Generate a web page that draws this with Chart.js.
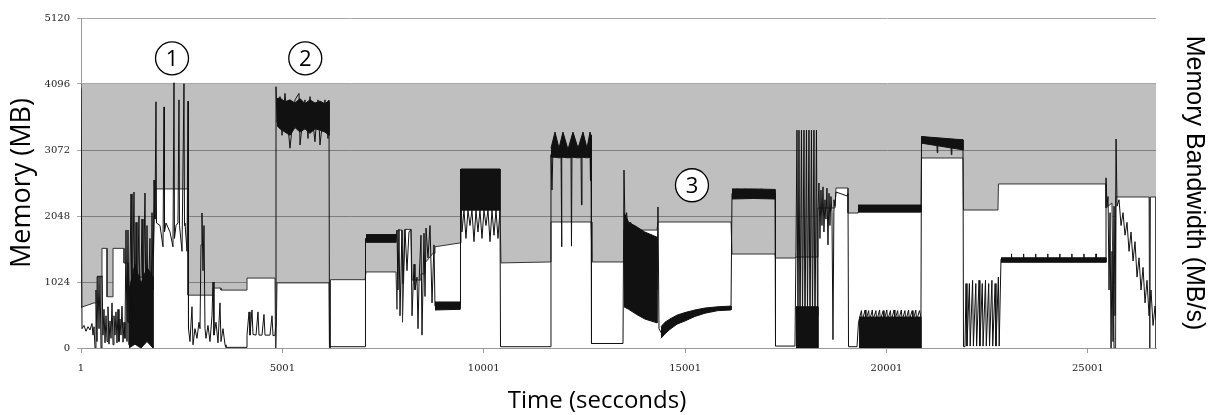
<!DOCTYPE html>
<html>
<head>
<meta charset="utf-8">
<script src="https://cdn.jsdelivr.net/npm/chart.js@4.4.1/dist/chart.umd.min.js"></script>
<style>
  html, body { margin: 0; padding: 0; background: #fff; }
  #wrap { width: 1209px; height: 415px; }
</style>
</head>
<body>
<div id="wrap"><canvas id="myChart" width="1209" height="415"></canvas></div>
<script>
// x axis (seconds) and y axis (MB) ticks
var xTicks = [1, 5001, 10001, 15001, 20001, 25001];
var xMax = 26694;

// total memory (gray)
var capT = [1, 26694];
var capV = [4096, 4096];

// memory allocation (white area)
var memT = [1, 324, 398, 398, 522, 522, 647, 647, 796, 796, 1069, 1069, 1168, 1168, 1466, 1466,
  1789, 1838, 2658, 2658, 3279, 3279, 3477, 3477, 4123, 4123,
  4818, 4831, 4843, 4868, 6159, 6171, 6184, 6196, 7053, 7078,
  7822, 7847, 7872, 7971, 7984, 8046, 8195, 8220, 8443, 8443, 8543, 8543, 8741, 8791, 8791, 9412,
  9436, 10405, 10430, 11647, 11671, 12665, 12689, 13484, 13484, 14303, 14328, 16141,
  16166, 17234, 17246, 17729, 17754, 18300, 18300, 18723, 18748, 19046, 19046, 19295,
  19295, 20858, 20871, 21901, 21914, 22770, 22782, 25453, 25453, 25600, 25650, 25690, 25702,
  26522, 26530, 26545, 26555, 26694, 26694];
var memV = [630, 700, 700, 1105, 1105, 1546, 1546, 795, 795, 1546, 1546, 1318, 1318, 400, 400, 1100,
  1100, 2468, 2468, 820, 820, 930, 930, 898, 898, 1085,
  1085, 0, 0, 1010, 1010, 0, 0, 1060, 1060, 1180,
  1180, 600, 1830, 1830, 400, 1840, 1840, 1055, 1055, 1150, 1150, 1320, 1470, 1470, 1570, 1630,
  2141, 2141, 1320, 1335, 1955, 1955, 1335, 1335, 1830, 1830, 1955, 1955,
  1458, 1458, 1396, 1396, 1412, 1412, 2172, 2172, 2482, 2482, 2094, 2094,
  2110, 2110, 2948, 2948, 2141, 2141, 2545, 2545, 2172, 2250, 0, 0, 2343,
  2343, 0, 0, 2343, 2343, 0];

// dense black bands (upper / lower edge), segments split by null
var bandT = [1193, 1340, 1490, 1640, 1789, null,
  4868, 4942, 5066, 5190, 5315, 5439, 5563, 5687, 5811, 5935, 6059, 6159, null,
  7078, 7822, null,
  8791, 9412, null,
  9436, 10405, null,
  11671, 11771, 11870, 11969, 12093, 12217, 12342, 12466, 12565, 12640, 12665, null,
  13484, 13600, 13800, 14000, 14303, null,
  14403, 14502, 14626, 14800, 14999, 15247, 15495, 15818, 16141, null,
  16166, 16700, 17234, null,
  17754, 18300, null,
  19295, 20858, null,
  19320, 20858, null,
  20871, 21901, null,
  22845, 25453];
var bandHi = [900, 1300, 1000, 1250, 1100, null,
  3870, 3880, 3820, 3850, 3800, 3870, 3790, 3850, 3800, 3830, 3790, 3840, null,
  1760, 1760, null,
  714, 714, null,
  2777, 2777, null,
  3100, 3350, 3100, 3350, 3080, 3350, 3100, 3350, 3100, 3350, 3300, null,
  2100, 1950, 1880, 1800, 1720, null,
  330, 400, 450, 510, 550, 590, 620, 640, 650, null,
  2468, 2468, 2460, null,
  640, 640, null,
  2218, 2218, null,
  480, 480, null,
  3281, 3230, null,
  1400, 1400];
var bandLo = [0, 60, 0, 100, 0, null,
  3450, 3400, 3350, 3300, 3420, 3350, 3400, 3330, 3400, 3380, 3350, 3300, null,
  1640, 1640, null,
  590, 600, null,
  2141, 2141, null,
  2960, 2960, 2950, 2960, 2950, 2960, 2950, 2960, 2950, 2960, 2960, null,
  640, 600, 520, 450, 390, null,
  150, 220, 290, 370, 420, 490, 540, 580, 590, null,
  2312, 2320, 2312, null,
  0, 0, null,
  2110, 2110, null,
  0, 0, null,
  3178, 3074, null,
  1330, 1330];

// memory bandwidth trace (black line)
var lineT = [1, 26, 75, 125, 175, 224, 274, 299, 324,
  349, 373, 398, 423, 448, 473, 498, 522, 547,
  572, 597, 622, 647, 671, 696, 721, 746, 771, 796, 820, 845, 870, 895, 920, 944, 969, 994, 1019, 1044, 1069, 1093, 1118, 1143,
  1168, 1193, 1243, 1267, 1317, 1342, 1367, 1391, 1441, 1466, 1516, 1540, 1590, 1615, 1640, 1665, 1714, 1739, 1764, 1789, 1814, 1838,
  1863, 1876, 1963, 2037, 2062, 2074, 2112, 2211, 2285, 2310, 2322, 2360, 2409, 2434, 2447, 2509, 2558, 2571, 2583, 2633, 2658, 2670,
  2707, 2757, 2782, 2831, 2881, 2931, 2956, 2981, 3005, 3030, 3055, 3080, 3105, 3154, 3204, 3254, 3279, 3303, 3353, 3403, 3452, 3477, 3527, 3577, 3601,
  4123, 4123, 4173, 4197, 4247, 4272, 4347, 4396, 4421, 4495, 4545, 4570, 4694, 4744, 4769, 4818, 4843,
  4843, 4868, 4942, 4992, 5066, 5190, 5315, 5414, 5439, 5563, 5638, 5687, 5811, 5886, 5935, 6059, 6134, 6159, 6171,
  7053, 7065, 7822,
  7847, 7872, 7897, 7922, 7971, 7996, 8046, 8096, 8145, 8195, 8220, 8270, 8294, 8344, 8369, 8394, 8443, 8468, 8518, 8543, 8568, 8617, 8667, 8717, 8766, 8791,
  9412, 9424, 9461, 9511, 9560, 9610, 9660, 9709, 9759, 9809, 9858, 9908, 9958, 10007, 10057, 10107, 10157, 10206, 10256, 10306, 10355, 10405, 10418,
  11647, 11671, 11696, 11721, 11920, 11933, 11944, 12168, 12180, 12193, 12416, 12428, 12441, 12640, 12652, 12665, 12677,
  13459, 13484, 13509, 13550, 13600, 13650, 13700, 13750, 13800, 13850, 13900, 13950, 14000, 14050, 14100, 14150, 14200, 14250, 14303,
  14328, 14353, 14403, 14502, 14626, 14800, 14999, 15247, 15495, 15818, 16141,
  16166, 16300, 16400, 16500, 16700, 16900, 17100, 17234, 17246, 17729,
  17754, 17779, 17804, 17829, 17854, 17891, 17916, 17953, 17978, 18015, 18040, 18077, 18102, 18139, 18164, 18201, 18226, 18263, 18288,
  18300, 18325, 18350, 18375, 18400, 18425, 18449, 18474, 18499, 18524, 18549, 18574, 18598, 18623, 18648, 18673, 18698, 18723,
  18748, 19021, 19046, 19059, 19270,
  19307, 19380, 19400, 19470, 19490, 19560, 19580, 19650, 19670, 19740, 19760, 19830, 19850, 19920, 19940, 20010, 20030, 20100, 20120,
  20190, 20210, 20280, 20300, 20370, 20390, 20460, 20480, 20550, 20570, 20640, 20660, 20730, 20750, 20820, 20858,
  20871, 21250, 21262, 21275, 21600, 21612, 21625, 21901, 21914,
  21951, 21977, 22000, 22060, 22080, 22140, 22160, 22220, 22240, 22300, 22320, 22380, 22400, 22460, 22480, 22540, 22560, 22620, 22640, 22700, 22720, 22780, 22800, 22845,
  23100, 23105, 23110, 23400, 23405, 23410, 23700, 23705, 23710, 24000, 24005, 24010,
  24300, 24305, 24310, 24600, 24605, 24610, 24900, 24905, 24910, 25200, 25205, 25210, 25453,
  25453, 25478, 25503, 25528, 25553, 25578, 25602, 25627, 25652, 25677, 25702, 25727, 25776, 25826, 25875, 25925, 25975, 26024, 26074, 26124,
  26173, 26223, 26273, 26322, 26372, 26422, 26471, 26521, 26571, 26620, 26670, 26694];
var lineV = [4030, 300, 350, 260, 330, 280, 380, 200, 330,
  0, 900, 100, 1120, 300, 1120, 0, 1120, 200,
  600, 80, 500, 100, 640, 60, 420, 150, 700, 50, 500, 200, 560, 80, 600, 100, 450, 200, 650, 90, 400, 150, 1830, 100,
  1830, 50, 2390, 300, 2420, 100, 1950, 400, 2050, 200, 2000, 500, 2405, 300, 1900, 600, 1700, 200, 2100, 900, 2605, 2000,
  3820, 1940, 1900, 1570, 3740, 1800, 1940, 1800, 1570, 4116, 1700, 1900, 1940, 3850, 1900, 1500, 4100, 1900, 1940, 1500, 3830, 300,
  100, 640, 50, 300, 150, 400, 300, 1600, 2095, 1200, 1900, 300, 150, 350, 100, 500, 1024, 200, 400, 80, 700, 100, 300, 50, 10,
  10, 200, 560, 200, 590, 210, 200, 560, 200, 200, 520, 200, 200, 500, 190, 200, 400,
  4054, 3500, 3900, 3300, 3950, 3100, 3850, 3950, 3150, 3850, 3250, 3900, 3200, 3850, 3150, 3850, 3250, 3800, 20,
  20, 1700, 1700,
  1830, 900, 1840, 500, 1830, 1000, 1840, 1200, 1800, 1840, 500, 1300, 900, 1100, 300, 1000, 1750, 200, 1780, 800, 1860, 1400, 1900, 700, 1600, 650,
  650, 2777, 1800, 2141, 1700, 2141, 1900, 2141, 1650, 2141, 1800, 2141, 1700, 2141, 1900, 2141, 1650, 2141, 1750, 2141, 1700, 2141, 20,
  20, 3000, 2450, 3100, 3050, 1570, 3100, 3050, 1580, 3100, 3050, 2220, 3100, 3100, 2600, 3300, 70,
  70, 2760, 1900, 2100, 1600, 1950, 1500, 1900, 1400, 1850, 1300, 1800, 1200, 1750, 1100, 1760, 1000, 1700, 900,
  2188, 300, 240, 310, 370, 440, 480, 540, 580, 610, 620,
  2400, 2470, 2330, 2470, 2330, 2470, 2330, 2400, 30, 30,
  1500, 3380, 200, 3380, 100, 3380, 300, 3380, 100, 3380, 400, 3380, 200, 3380, 300, 3380, 100, 3380, 500,
  2100, 2560, 1700, 2450, 1900, 2500, 1800, 2300, 2000, 2480, 1600, 2400, 1900, 2350, 2100, 130, 2300, 2200,
  2420, 2360, 2400, 20, 20,
  400, 580, 420, 590, 430, 580, 420, 590, 440, 580, 420, 590, 430, 580, 420, 590, 430, 580, 420,
  590, 440, 580, 420, 590, 430, 580, 420, 590, 440, 580, 420, 590, 430, 580, 480,
  3281, 3230, 3030, 3230, 3200, 3000, 3200, 3230, 20,
  20, 1000, 30, 1000, 30, 1050, 30, 1000, 30, 1050, 30, 1000, 30, 1050, 30, 1000, 30, 1050, 30, 1000, 30, 1100, 30, 1380,
  1380, 1460, 1380, 1380, 1460, 1380, 1380, 1460, 1380, 1380, 1460, 1380,
  1380, 1460, 1380, 1380, 1460, 1380, 1380, 1460, 1380, 1380, 1460, 1380, 1380,
  2640, 2200, 2350, 900, 2100, 0, 1500, 100, 2200, 500, 3243, 2200, 2300, 1900, 2100, 1750, 1950, 1500, 1800, 1350,
  1650, 1100, 1400, 900, 1250, 700, 1050, 500, 900, 350, 650, 430];

// circled phase markers
var noteText = ['1', '2', '3'];
var noteT = [2261, 5570, 15172];
var noteV = [4494, 4494, 2525];

function zip(ts, vs) {
  var out = [];
  for (var i = 0; i < ts.length; i++) out.push({ x: ts[i], y: vs[i] });
  return out;
}

// each band segment becomes one closed shape: upper edge forward, lower edge back
function bandShapes() {
  var shapes = [], idx = [];
  for (var i = 0; i <= bandT.length; i++) {
    if (i === bandT.length || bandT[i] === null) {
      var top = idx.map(function (k) { return { x: bandT[k], y: bandHi[k] }; });
      var bot = idx.slice().reverse().map(function (k) { return { x: bandT[k], y: bandLo[k] }; });
      shapes.push(top.concat(bot));
      idx = [];
    } else {
      idx.push(i);
    }
  }
  return shapes;
}

var notes = {
  id: 'notes',
  afterDatasetsDraw: function (chart) {
    var ctx = chart.ctx, xs = chart.scales.x, ys = chart.scales.y;
    ctx.save();
    ctx.textAlign = 'center';
    ctx.textBaseline = 'middle';
    for (var i = 0; i < noteText.length; i++) {
      var px = xs.getPixelForValue(noteT[i]);
      var py = ys.getPixelForValue(noteV[i]);
      ctx.beginPath();
      ctx.arc(px, py, 16.5, 0, Math.PI * 2);
      ctx.fillStyle = '#fff';
      ctx.fill();
      ctx.lineWidth = 1.3;
      ctx.strokeStyle = '#000';
      ctx.stroke();
      ctx.fillStyle = '#000';
      ctx.font = '22px "Open Sans"';
      ctx.fillText(noteText[i], px, py + 1);
    }
    // x axis title
    ctx.font = '24px "Open Sans"';
    ctx.fillText('Time (secconds)', 597, 401);
    ctx.restore();
  }
};

function drawChart() {
  var datasets = [{
    label: 'Memory bandwidth',
    data: zip(lineT, lineV),
    borderColor: '#111',
    borderWidth: 1,
    pointRadius: 0,
    fill: false,
    order: 0
  }];
  bandShapes().forEach(function (s) {
    datasets.push({
      label: 'band',
      data: s,
      borderColor: '#111',
      backgroundColor: '#111',
      borderWidth: 1,
      pointRadius: 0,
      fill: 'shape',
      order: 1
    });
  });
  datasets.push({
    label: 'Memory',
    data: zip(memT, memV),
    borderColor: '#333',
    backgroundColor: '#fff',
    borderWidth: 1,
    pointRadius: 0,
    fill: 'origin',
    order: 2
  });
  datasets.push({
    label: 'Total',
    data: zip(capT, capV),
    borderWidth: 0,
    backgroundColor: 'rgba(0,0,0,0.25)',
    pointRadius: 0,
    fill: 'origin',
    order: 3
  });

  var ctx = document.getElementById('myChart');
  new Chart(ctx, {
    type: 'line',
    data: { datasets: datasets },
    plugins: [notes],
    options: {
      responsive: false,
      animation: false,
      layout: { padding: { top: 18, left: 0, right: 0, bottom: 0 } },
      plugins: { legend: { display: false }, tooltip: { enabled: false } },
      elements: { line: { tension: 0 } },
      scales: {
        x: {
          type: 'linear',
          min: 1,
          max: xMax,
          afterBuildTicks: function (s) { s.ticks = xTicks.map(function (v) { return { value: v }; }); },
          afterFit: function (s) { s.height = 67; },
          ticks: {
            autoSkip: false, maxRotation: 0, padding: 9, color: '#222',
            font: { family: 'DejaVu Serif', size: 10 },
            callback: function (v) { return String(v); }
          },
          grid: { drawOnChartArea: false, tickLength: 5, color: '#999' },
          border: { color: '#999' }
        },
        y: {
          position: 'left',
          min: 0,
          max: 5120,
          afterFit: function (s) { s.width = 81; },
          ticks: {
            stepSize: 1024, padding: 7, color: '#222',
            font: { family: 'DejaVu Serif', size: 10 },
            callback: function (v) { return String(v); }
          },
          grid: { color: '#a8a8a8', tickLength: 4 },
          border: { color: '#999' },
          title: {
            display: true, text: 'Memory (MB)', color: '#000',
            font: { family: 'Open Sans', size: 27 }, padding: { top: 6, bottom: 0 }
          }
        },
        y1: {
          position: 'right',
          afterFit: function (s) { s.width = 53; },
          ticks: { display: false },
          grid: { display: false },
          border: { display: false },
          title: {
            display: true, text: 'Memory Bandwidth (MB/s)', color: '#000',
            font: { family: 'Liberation Sans', size: 25 }, padding: { top: 0, bottom: 0 }
          }
        }
      }
    }
  });
}

drawChart();
</script>
</body>
</html>
